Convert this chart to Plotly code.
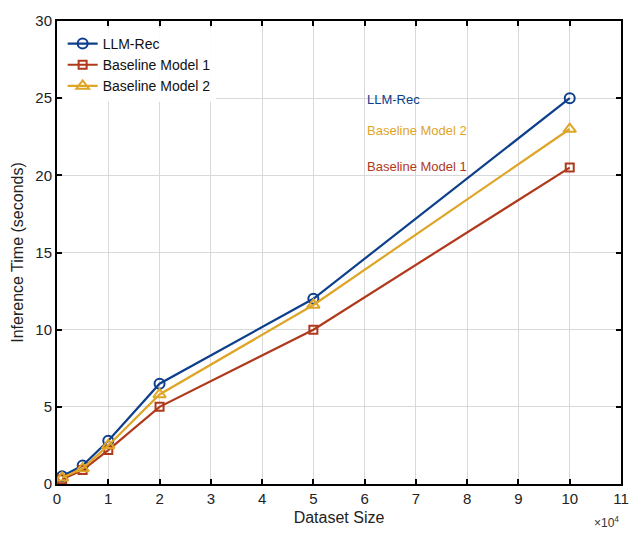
import plotly.graph_objects as go

dataset_size = [1000, 5000, 10000, 20000, 50000, 100000]
llm_rec = [0.5, 1.2, 2.8, 6.5, 12.0, 25.0]
baseline1 = [0.3, 0.9, 2.2, 5.0, 10.0, 20.5]
baseline2 = [0.4, 1.0, 2.5, 5.8, 11.6, 23.0]
x_tick_vals = [i * 10000 for i in range(12)]
x_tick_text = [str(i) for i in range(12)]
y_tick_vals = [0, 5, 10, 15, 20, 25, 30]

C_BLUE = "#0d3f8c"
C_RED = "#b0391c"
C_YEL = "#dea526"
FONT = "Liberation Sans, Arial, sans-serif"

fig = go.Figure()
fig.add_trace(go.Scatter(x=dataset_size, y=llm_rec, name="LLM-Rec", mode="lines+markers",
                         line=dict(color=C_BLUE, width=2.2),
                         marker=dict(symbol="circle-open", size=10, color=C_BLUE, line=dict(width=2))))
fig.add_trace(go.Scatter(x=dataset_size, y=baseline1, name="Baseline Model 1", mode="lines+markers",
                         line=dict(color=C_RED, width=2.2),
                         marker=dict(symbol="square-open", size=8, color=C_RED, line=dict(width=2))))
fig.add_trace(go.Scatter(x=dataset_size, y=baseline2, name="Baseline Model 2", mode="lines+markers",
                         line=dict(color=C_YEL, width=2.2),
                         marker=dict(symbol="triangle-up-open", size=11, color=C_YEL, line=dict(width=2))))

for txt, yv, col in [("LLM-Rec", 24.9, C_BLUE), ("Baseline Model 2", 22.9, C_YEL), ("Baseline Model 1", 20.6, C_RED)]:
    fig.add_annotation(x=60000, y=yv, text=txt, showarrow=False, xanchor="left", yanchor="middle",
                       font=dict(color=col, size=13, family=FONT))

fig.add_annotation(x=1.0, y=-0.082, xref="paper", yref="paper", text="×10<sup>4</sup>", showarrow=False,
                   xanchor="right", yanchor="middle", font=dict(size=12, family=FONT, color="#333"))

axis_common = dict(showline=True, linecolor="black", linewidth=2, mirror="ticks", ticks="inside",
                   ticklen=5, tickcolor="black", tickwidth=2, showgrid=True, gridcolor="#d9d9d9",
                   gridwidth=1, zeroline=False, tickfont=dict(size=15, family=FONT, color="#222"))

fig.update_xaxes(range=[0, 110000], tickvals=x_tick_vals, ticktext=x_tick_text,
                 title=dict(text="Dataset Size", font=dict(size=16, family=FONT, color="#222"), standoff=6),
                 **axis_common)
fig.update_yaxes(range=[0, 30], tickvals=y_tick_vals,
                 title=dict(text="Inference Time (seconds)", font=dict(size=16, family=FONT, color="#222"), standoff=8),
                 **axis_common)

fig.update_layout(width=641, height=536, margin=dict(l=57, r=17, t=15, b=50),
                  plot_bgcolor="white", paper_bgcolor="white",
                  legend=dict(x=0.01, y=0.985, xanchor="left", yanchor="top", bgcolor="rgba(255,255,255,0.9)",
                              font=dict(size=14, family=FONT, color="#111"), tracegroupgap=0, itemwidth=30),
                  showlegend=True)

fig.write_html("out.html")
